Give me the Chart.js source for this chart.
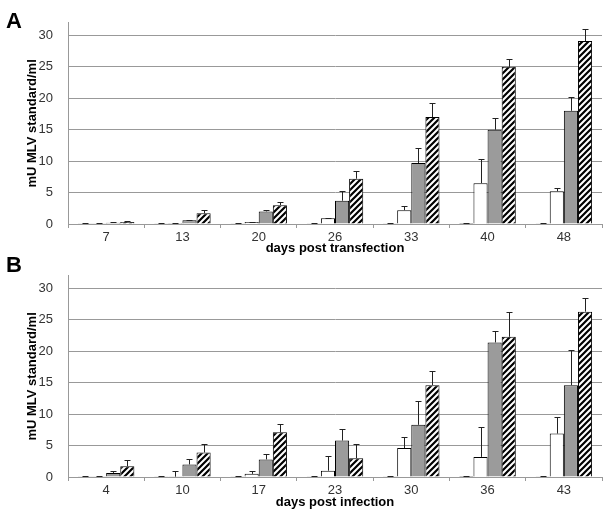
<!DOCTYPE html>
<html>
<head>
<meta charset="utf-8">
<script src="https://cdn.jsdelivr.net/npm/chart.js@4.4.1/dist/chart.umd.min.js"></script>
<style>
  body { margin: 0; background: #fff; }
  #page { position: relative; width: 612px; height: 514px; font-family: "Liberation Sans", Arial, Helvetica, sans-serif; }
  .panel { position: absolute; left: 0; width: 612px; }
  .letra { position: absolute; left: 6px; font-weight: bold; font-size: 22px; color: #000; }
</style>
</head>
<body>
<div id="page">
  <div class="panel" style="top:0;height:256px"><canvas id="graficoA"></canvas></div>
  <div class="panel" style="top:253px;height:261px"><canvas id="graficoB"></canvas></div>
  <div class="letra" style="top:8px">A</div>
  <div class="letra" style="top:252px">B</div>
</div>
<script>
// ---- datos panel A (days post transfection) ----
const diasA = ["7", "13", "20", "26", "33", "40", "48"];
const negroA = [0.1, 0.1, 0.1, 0.1, 0.1, 0.15, 0.1];
const blancoA = [0.1, 0.15, 0.3, 0.9, 2.2, 6.5, 5.2];
const grisA = [0.2, 0.6, 2.0, 3.7, 9.7, 15.0, 18.0];
const rayadoA = [0.3, 1.7, 3.0, 7.2, 17.0, 25.0, 29.1];
// extremo superior de la barra de error
const negroErrA = [0.12, 0.12, 0.15, 0.15, 0.15, 0.2, 0.15];
const blancoErrA = [0.12, 0.2, 0.35, 1.0, 2.8, 10.4, 5.8];
const grisErrA = [0.25, 0.7, 2.2, 5.2, 12.1, 16.9, 20.2];
const rayadoErrA = [0.4, 2.2, 3.5, 8.5, 19.2, 26.3, 31.0];

// ---- datos panel B (days post infection) ----
const diasB = ["4", "10", "17", "23", "30", "36", "43"];
const negroB = [0.05, 0.05, 0.1, 0.1, 0.1, 0.15, 0.1];
const blancoB = [0.1, 0.05, 0.5, 1.0, 4.6, 3.2, 6.9];
const grisB = [0.65, 2.0, 2.8, 5.8, 8.3, 21.4, 14.6];
const rayadoB = [1.7, 3.9, 7.1, 3.0, 14.6, 22.3, 26.3];
const negroErrB = [0.1, 0.1, 0.15, 0.15, 0.15, 0.2, 0.15];
const blancoErrB = [0.15, 1.0, 0.9, 3.4, 6.4, 8.0, 9.6];
const grisErrB = [1.0, 2.8, 3.7, 7.7, 12.1, 23.3, 20.2];
const rayadoErrB = [2.7, 5.2, 8.5, 5.3, 16.8, 26.3, 28.4];

const ticksY = [0, 5, 10, 15, 20, 25, 30];

const fuente = "'Liberation Sans', Arial, Helvetica, sans-serif";

/******************************************************************
 * patron rayado diagonal
 ******************************************************************/
const crearRayado = () => {
  const c = document.createElement("canvas");
  c.width = 6;
  c.height = 6;
  const g = c.getContext("2d");
  g.fillStyle = "#fff";
  g.fillRect(0, 0, 6, 6);
  g.strokeStyle = "#000";
  g.lineWidth = 2.2;
  g.beginPath();
  g.moveTo(-1, 7); g.lineTo(7, -1);
  g.moveTo(-4, 4); g.lineTo(4, -4);
  g.moveTo(2, 10); g.lineTo(10, 2);
  g.stroke();
  return g.createPattern(c, "repeat");
};
const rayado = crearRayado();

/******************************************************************
 * barras de error (solo hacia arriba)
 ******************************************************************/
const barrasError = {
  id: "barrasError",
  afterDatasetsDraw(chart) {
    const ctx = chart.ctx;
    const y = chart.scales.y;
    ctx.save();
    ctx.strokeStyle = "#222";
    ctx.lineWidth = 1;
    chart.data.datasets.forEach((ds, i) => {
      const meta = chart.getDatasetMeta(i);
      meta.data.forEach((bar, j) => {
        const yErr = Math.round(y.getPixelForValue(ds.errores[j])) + 0.5;
        const x = Math.round(bar.x) + 0.5;
        ctx.beginPath();
        ctx.moveTo(x, bar.y);
        ctx.lineTo(x, yErr);
        ctx.moveTo(x - 3, yErr);
        ctx.lineTo(x + 3, yErr);
        ctx.stroke();
      });
    });
    ctx.restore();
  },
};

const generarGrafico = (id, dias, series, titulo, altoX, padTitulo) => {
  const colores = ["#000", "#fff", "#9b9b9b", rayado];
  new Chart(document.getElementById(id), {
    type: "bar",
    data: {
      labels: dias,
      datasets: series.map((s, i) => ({
        data: s.valores,
        errores: s.errores,
        backgroundColor: colores[i],
        borderColor: "#000",
        borderWidth: 1,
        categoryPercentage: 0.74,
        barPercentage: 1.0,
      })),
    },
    options: {
      responsive: true,
      maintainAspectRatio: false,
      animation: false,
      layout: { padding: { top: 10, right: 10, left: 25, bottom: 0 } },
      plugins: { legend: { display: false }, tooltip: { enabled: false } },
      scales: {
        x: {
          afterFit: (scale) => { scale.height = altoX; },
          grid: { drawOnChartArea: false, tickLength: 4, color: "#999" },
          border: { color: "#999" },
          ticks: { color: "#333", font: { family: fuente, size: 13 }, padding: 2 },
          title: {
            display: true,
            text: titulo,
            color: "#000",
            font: { family: fuente, size: 13, weight: "bold" },
            padding: { top: 0, bottom: padTitulo },
          },
        },
        y: {
          min: 0,
          max: 32,
          afterFit: (scale) => { scale.width = 43; },
          afterBuildTicks: (scale) => {
            scale.ticks = ticksY.map((v) => ({ value: v }));
          },
          grid: { color: "#999", drawTicks: false },
          border: { color: "#999" },
          ticks: { color: "#333", font: { family: fuente, size: 13 }, padding: 15 },
          title: {
            display: true,
            text: "mU MLV standard/ml",
            color: "#000",
            font: { family: fuente, size: 13, weight: "bold" },
            padding: { top: 0, bottom: 0 },
          },
        },
      },
    },
    plugins: [barrasError],
  });
};

generarGrafico(
  "graficoA",
  diasA,
  [
    { valores: negroA, errores: negroErrA },
    { valores: blancoA, errores: blancoErrA },
    { valores: grisA, errores: grisErrA },
    { valores: rayadoA, errores: rayadoErrA },
  ],
  "days post transfection",
  32,
  0
);

generarGrafico(
  "graficoB",
  diasB,
  [
    { valores: negroB, errores: negroErrB },
    { valores: blancoB, errores: blancoErrB },
    { valores: grisB, errores: grisErrB },
    { valores: rayadoB, errores: rayadoErrB },
  ],
  "days post infection",
  37,
  4
);
</script>
</body>
</html>
